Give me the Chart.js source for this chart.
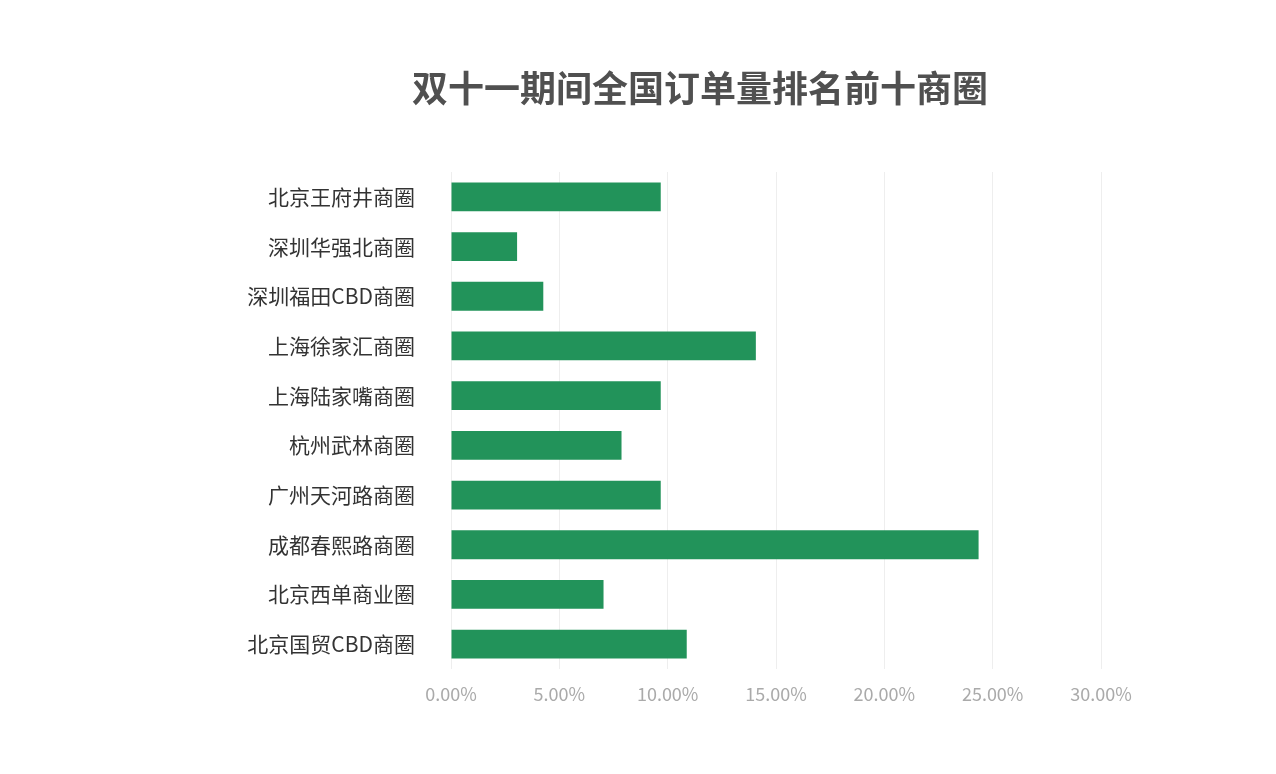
<!DOCTYPE html>
<html><head><meta charset="utf-8">
<script src="https://cdn.jsdelivr.net/npm/chart.js@4/dist/chart.umd.min.js"></script>
<style>html,body{margin:0;padding:0;background:#fff}#w{width:1276px;height:774px}</style>
</head><body><div id="w"><canvas id="c"></canvas></div>
<script>
const chartTitle = "双十一期间全国订单量排名前十商圈";
const categories = ["北京王府井商圈","深圳华强北商圈","深圳福田CBD商圈","上海徐家汇商圈","上海陆家嘴商圈","杭州武林商圈","广州天河路商圈","成都春熙路商圈","北京西单商业圈","北京国贸CBD商圈"];
const shares = [9.68, 3.05, 4.26, 14.07, 9.68, 7.87, 9.68, 24.35, 7.04, 10.88];
const FONT = "'Noto Sans CJK SC','Noto Sans',sans-serif";
const titlePlugin = {id:'t', afterDraw(ch){const c=ch.ctx;c.save();c.font="bold 36px "+FONT;c.fillStyle="#505050";c.textAlign="center";c.textBaseline="middle";c.fillText(chartTitle,700,88);c.restore();}};
new Chart(document.getElementById('c'),{
 type:'bar',
 data:{labels:categories,datasets:[{data:shares,backgroundColor:'#22935a',barPercentage:0.58,categoryPercentage:1}]},
 options:{indexAxis:'y',responsive:true,maintainAspectRatio:false,animation:false,
  layout:{padding:{top:172,right:175,bottom:45,left:0}},
  plugins:{legend:{display:false},tooltip:{enabled:false}},
  scales:{
   x:{min:0,max:30,ticks:{stepSize:5,color:'#aaaaaa',font:{family:FONT,size:18},padding:14,callback:v=>v.toFixed(2)+'%'},
      grid:{color:'#eeeeee',drawTicks:false},border:{display:false},afterFit:s=>{s.height=60;}},
   y:{ticks:{color:'#333333',font:{family:FONT,size:21},padding:28},grid:{display:false},border:{display:false},afterFit:s=>{s.width=451;}}
  }},
 plugins:[titlePlugin]
});
</script></body></html>
